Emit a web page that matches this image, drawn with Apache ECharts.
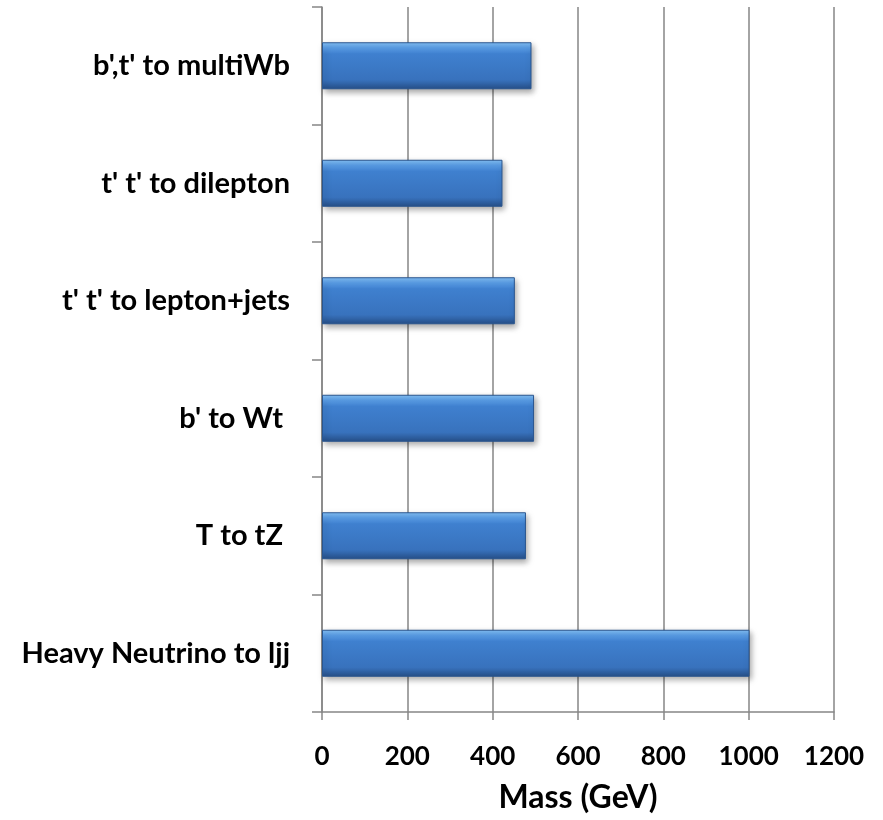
<!DOCTYPE html>
<html>
<head>
<meta charset="utf-8">
<style>
  html, body { margin: 0; padding: 0; background: #fff; }
  #chart { width: 883px; height: 820px; }
</style>
<script src="https://cdn.jsdelivr.net/npm/echarts@6/dist/echarts.min.js"></script>
</head>
<body>
<div id="chart"></div>
<script>
// categories from bottom to top, like the y axis
var searches = [
  "Heavy Neutrino to ljj",
  "T to tZ ",
  "b' to Wt ",
  "t' t' to lepton+jets",
  "t' t' to dilepton",
  "b',t' to multiWb"
];
// mass limits in GeV
var massLimits = [1002, 478, 497, 452, 423, 491];
var massTicks = [0, 200, 400, 600, 800, 1000, 1200];

var chart = echarts.init(document.getElementById("chart"));
var font = "Lato, 'Open Sans', sans-serif";

chart.setOption({
  animation: false,
  grid: { left: 322, right: 49, top: 7, bottom: 108, containLabel: false, outerBoundsMode: "none" },
  xAxis: {
    type: "value",
    min: massTicks[0],
    max: massTicks[massTicks.length - 1],
    interval: 200,
    name: "Mass (GeV)",
    nameLocation: "middle",
    nameGap: 70,
    nameTextStyle: { fontFamily: font, fontWeight: "bold", fontSize: 32, color: "#000" },
    axisLine: { show: true, lineStyle: { color: "#868686", width: 1.5 } },
    axisTick: { show: true, length: 8, lineStyle: { color: "#868686", width: 1.5 } },
    axisLabel: {
      fontFamily: font, fontWeight: "bold", fontSize: 26, color: "#000", margin: 32,
      formatter: function (v) { return String(v); }
    },
    splitLine: { show: true, lineStyle: { color: "#868686", width: 1.5 } }
  },
  yAxis: {
    type: "category",
    data: searches,
    axisLine: { show: true, lineStyle: { color: "#868686", width: 1.5 } },
    axisTick: { show: true, length: 10, lineStyle: { color: "#868686", width: 1.5 } },
    axisLabel: { fontFamily: font, fontWeight: "bold", fontSize: 29, color: "#000", margin: 32 },
    splitLine: { show: false }
  },
  series: [{
    type: "bar",
    data: massLimits,
    barCategoryGap: "60%",
    itemStyle: {
      color: new echarts.graphic.LinearGradient(0, 0, 0, 1, [
        { offset: 0, color: "#86c3f8" },
        { offset: 0.12, color: "#5a9ee8" },
        { offset: 0.25, color: "#3f80cf" },
        { offset: 0.8, color: "#3872bd" },
        { offset: 1, color: "#264f88" }
      ]),
      borderColor: "#2a568f",
      borderWidth: 1,
      shadowColor: "rgba(0,0,0,0.35)",
      shadowBlur: 6,
      shadowOffsetX: 2,
      shadowOffsetY: 3
    }
  }]
});
</script>
</body>
</html>
